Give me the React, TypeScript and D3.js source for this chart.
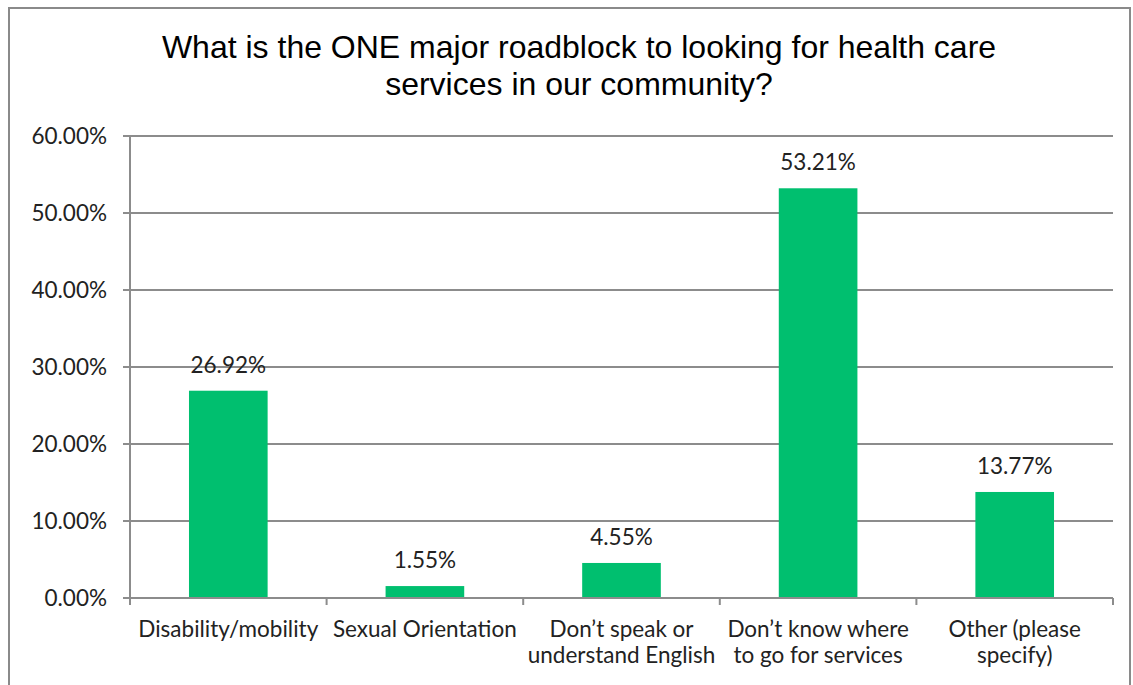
import React from "react";
import * as d3 from "d3";

const categories: string[][] = [
  ["Disability/mobility"],
  ["Sexual Orientation"],
  ["Don’t speak or", "understand English"],
  ["Don’t know where", "to go for services"],
  ["Other (please", "specify)"],
];
const values: number[] = [26.92, 1.55, 4.55, 53.21, 13.77];
const yTicks: number[] = [0, 10, 20, 30, 40, 50, 60];
const titleLines: string[] = [
  "What is the ONE major roadblock to looking for health care",
  "services in our community?",
];

const W = 1133;
const H = 685;
const left = 130;
const right = 1113;
const top = 136;
const bottom = 598;
const labelFont = "Lato, 'Open Sans', sans-serif";
const fs = 22.5;

export default function App() {
  const x = d3
    .scaleBand<number>()
    .domain(d3.range(categories.length))
    .range([left, right])
    .paddingInner(0.6)
    .paddingOuter(0.3);
  const band = d3.scaleBand<number>().domain(d3.range(categories.length)).range([left, right]);
  const y = d3.scaleLinear().domain([0, 60]).range([bottom, top]);
  const grid = "#8c8c8c";
  return (
    <svg
      width={W}
      height={H}
      style={{ position: "absolute", left: 0, top: 0, background: "#fff" }}
    >
      <rect x={9} y={8} width={W - 12} height={H} fill="#fff" stroke="#8a8a8a" strokeWidth={2} />
      {titleLines.map((t, i) => (
        <text
          key={i}
          x={579}
          y={58 + i * 37}
          textAnchor="middle"
          fontFamily="'Liberation Sans', Arial, sans-serif"
          fontSize={32}
          fill="#000"
        >
          {t}
        </text>
      ))}
      {yTicks.map((t) => (
        <g key={t}>
          {t > 0 && (
            <line x1={left} x2={right} y1={y(t)} y2={y(t)} stroke={grid} strokeWidth={2} />
          )}
          <line x1={left - 7} x2={left} y1={y(t)} y2={y(t)} stroke={grid} strokeWidth={2} />
          <text
            x={left - 23}
            y={y(t)}
            dy="0.35em"
            textAnchor="end"
            fontFamily={labelFont}
            fontSize={fs}
            fill="#222"
          >
            {t.toFixed(2) + "%"}
          </text>
        </g>
      ))}
      {values.map((v, i) => (
        <g key={i}>
          <rect x={x(i)} y={y(v)} width={x.bandwidth()} height={bottom - y(v)} fill="#00bf6f" />
          <text
            x={x(i)! + x.bandwidth() / 2}
            y={y(v) - 18}
            textAnchor="middle"
            fontFamily={labelFont}
            fontSize={fs}
            fill="#222"
          >
            {v.toFixed(2) + "%"}
          </text>
        </g>
      ))}
      <line x1={left} x2={left} y1={top} y2={bottom} stroke={grid} strokeWidth={2} />
      <line x1={left} x2={right} y1={bottom} y2={bottom} stroke={grid} strokeWidth={2} />
      {d3.range(categories.length + 1).map((i) => {
        const xx = i < categories.length ? band(i)! : right;
        return <line key={i} x1={xx} x2={xx} y1={bottom} y2={bottom + 7} stroke={grid} strokeWidth={2} />;
      })}
      {categories.map((lines, i) => (
        <text
          key={i}
          x={band(i)! + band.bandwidth() / 2}
          y={637}
          textAnchor="middle"
          fontFamily={labelFont}
          fontSize={fs}
          fill="#222"
        >
          {lines.map((l, j) => (
            <tspan key={j} x={band(i)! + band.bandwidth() / 2} dy={j === 0 ? 0 : 26}>
              {l}
            </tspan>
          ))}
        </text>
      ))}
    </svg>
  );
}
